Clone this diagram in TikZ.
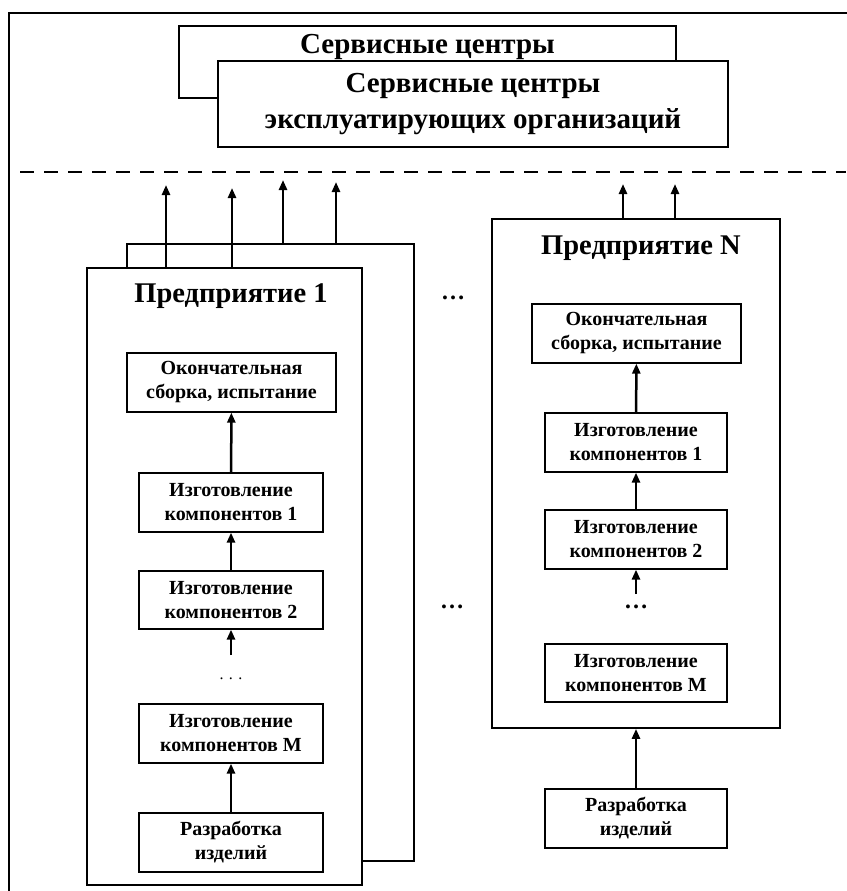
\documentclass[tikz,border=0pt]{standalone}
\usepackage{fontspec}
\setmainfont{Liberation Serif}
\usetikzlibrary{arrows.meta}
\begin{document}
\begin{tikzpicture}[x=1pt,y=-1pt,
  entbox/.style={draw,line width=1.7pt,fill=white,inner sep=0pt},
  svcbox/.style={draw,line width=1.3pt,fill=white,inner sep=0pt},
  stepbox/.style={draw,line width=1.2pt,fill=white,inner sep=0pt,align=center,font=\fontsize{20}{24}\selectfont\bfseries},
  flow/.style={line width=2.5pt,-{Triangle[length=10pt,width=8pt]}},
  titletext/.style={font=\fontsize{28.5}{32}\selectfont\bfseries,inner sep=0pt},
  svctext/.style={font=\fontsize{29}{36}\selectfont\bfseries,align=center,inner sep=0pt},
  dotstext/.style={font=\fontsize{24}{26}\selectfont\bfseries,inner sep=0pt}]
\useasboundingbox (0,0) rectangle (846,891);
% outer frame
\draw[line width=1.2pt] (9,895) -- (9,13) -- (850,13);
% service centres
\node[svcbox,minimum width=497pt,minimum height=72pt] (sc1) at (427.5,62) {};
\node[svctext,anchor=base] (sc1t) at (427.5,54) {Сервисные центры};
\node[svcbox,minimum width=510pt,minimum height=86pt,svctext] (sc2) at (473,104) {Сервисные центры\\эксплуатирующих организаций};
% dashed boundary
\coordinate (dl) at (20,172);
\coordinate (dr) at (846,172);
\draw[line width=1.6pt,dash pattern=on 14pt off 10pt] (dl) -- (dr);
% enterprise 1 (stacked)
\node[entbox,minimum width=287pt,minimum height=617pt] (e1b) at (270.5,552.5) {};
\node[entbox,minimum width=275pt,minimum height=617pt] (e1) at (224.5,576.5) {};
\coordinate (t1) at (166,185);
\coordinate (t2) at (232,188);
\coordinate (t3) at (283,180);
\coordinate (t4) at (336,182);
\draw[flow] (e1.north -| t1) -- (t1);
\draw[flow] (e1.north -| t2) -- (t2);
\draw[flow] (e1b.north -| t3) -- (t3);
\draw[flow] (e1b.north -| t4) -- (t4);
\node[titletext] (e1t) at (231,296) {Предприятие 1};
\node[stepbox,minimum width=209pt,minimum height=59pt] (f1) at (231.5,382.5) {Окончательная\\сборка, испытание};
\node[stepbox,minimum width=184pt,minimum height=59pt] (a1) at (231,502.5) {Изготовление\\компонентов 1};
\node[stepbox,minimum width=184pt,minimum height=58pt] (b1) at (231,600) {Изготовление\\компонентов 2};
\node[font=\fontsize{16}{18}\selectfont,inner sep=0pt] (d1) at (231,679) {.\,\,.\,\,.};
\node[stepbox,minimum width=184pt,minimum height=59pt] (m1) at (231,733.5) {Изготовление\\компонентов М};
\node[stepbox,minimum width=184pt,minimum height=59pt] (r1) at (231,842.5) {Разработка\\изделий};
\coordinate (s1) at (231,655);
\draw[flow] (a1) -- (f1);
\draw[flow] (b1) -- (a1);
\draw[flow] (s1) -- (b1);
\draw[flow] (r1) -- (m1);
% dots between enterprises
\node[dotstext] (mid1) at (453,298) {…};
\node[dotstext] (mid2) at (452,607) {…};
% enterprise N
\node[entbox,minimum width=288pt,minimum height=509pt] (en) at (636,473.5) {};
\coordinate (u1) at (623,184);
\coordinate (u2) at (675,184);
\draw[flow] (en.north -| u1) -- (u1);
\draw[flow] (en.north -| u2) -- (u2);
\node[titletext] (ent) at (641,248) {Предприятие N};
\node[stepbox,minimum width=209pt,minimum height=59pt] (fn) at (636.5,333.5) {Окончательная\\сборка, испытание};
\node[stepbox,minimum width=182pt,minimum height=59pt] (an) at (636,442.5) {Изготовление\\компонентов 1};
\node[stepbox,minimum width=182pt,minimum height=59pt] (bn) at (636,539.5) {Изготовление\\компонентов 2};
\node[dotstext] (dn) at (636,607) {…};
\node[stepbox,minimum width=182pt,minimum height=58pt] (mn) at (636,673) {Изготовление\\компонентов М};
\node[stepbox,minimum width=182pt,minimum height=59pt] (rn) at (636,818.5) {Разработка\\изделий};
\coordinate (sn) at (636,594);
\draw[flow] (an) -- (fn);
\draw[flow] (bn) -- (an);
\draw[flow] (sn) -- (bn);
\draw[flow] (rn) -- (rn |- en.south);
\end{tikzpicture}
\end{document}
